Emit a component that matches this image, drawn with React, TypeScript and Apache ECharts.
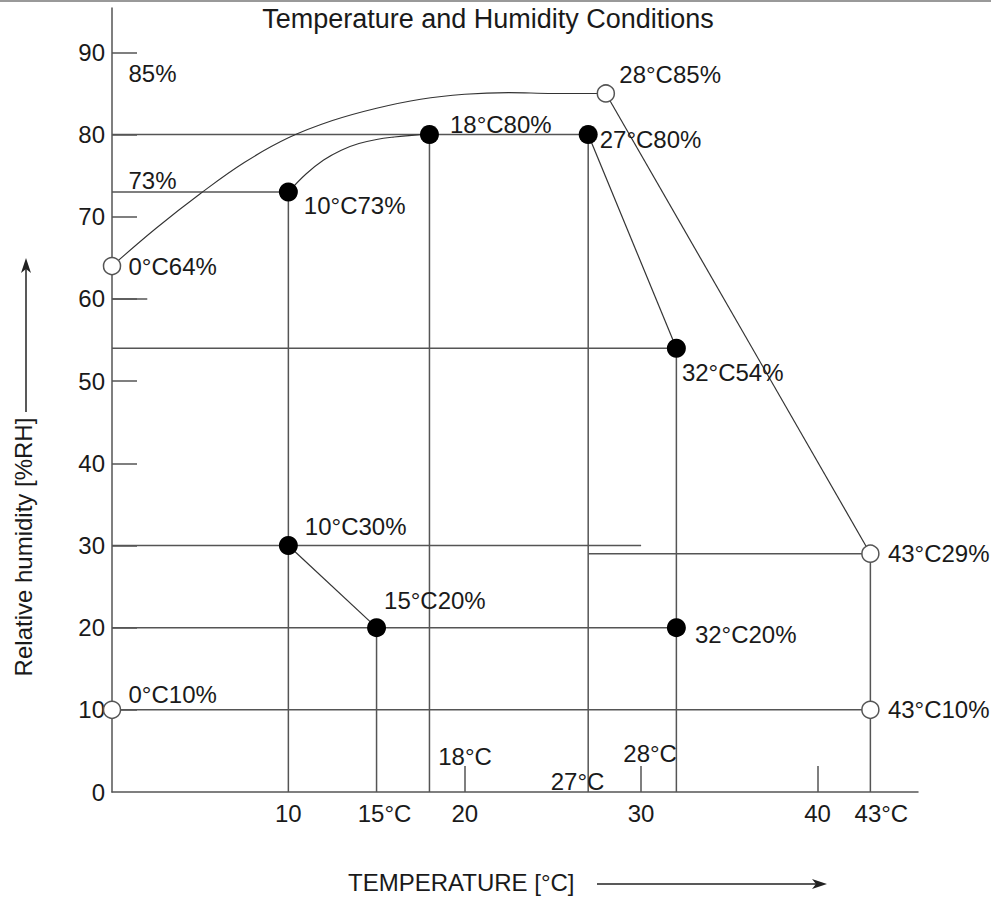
import { useEffect, useRef } from 'react';
import * as echarts from 'echarts';

// ---------- texts ----------
const TITLE = 'Temperature and Humidity Conditions';
const X_NAME = 'TEMPERATURE [°C]';
const Y_NAME = 'Relative humidity [%RH]';

// ---------- axes ----------
const X_MIN = 0;
const X_MAX = 45.7;
const Y_MIN = 0;
const Y_MAX = 95.4;
const xTickValues = [20, 30, 40];
const xLabelValues = [10, 15, 20, 30, 40, 43];
const yTickValues = [10, 20, 30, 40, 50, 60, 70, 80, 90];
const yLabelValues = [0, 10, 20, 30, 40, 50, 60, 70, 80, 90];

// ---------- condition points ----------
const filledPoints: [number, number][] = [
  [10, 73], [18, 80], [27, 80], [32, 54], [10, 30], [15, 20], [32, 20],
];
const filledNames = ['10°C73%', '18°C80%', '27°C80%', '32°C54%', '10°C30%', '15°C20%', '32°C20%'];

const openPoints: [number, number][] = [
  [0, 64], [28, 85], [43, 29], [43, 10], [0, 10],
];
const openNames = ['0°C64%', '28°C85%', '43°C29%', '43°C10%', '0°C10%'];

// extra annotation texts anchored at data values
const noteAnchors: [number, number][] = [[0, 85], [0, 73], [20, 0], [27, 0], [28, 0]];
const noteNames = ['85%', '73%', '18°C', '27°C', '28°C'];

// ---------- guide lines ----------
// horizontal: [xFrom, xTo, y]
const horizontalLines: [number, number, number][] = [
  [0, 27, 80], [0, 10, 73], [0, 32, 54], [0, 30, 30], [27, 43, 29], [0, 32, 20], [0, 43, 10], [0, 2, 60],
];
// vertical: [x, yFrom, yTo]
const verticalLines: [number, number, number][] = [
  [10, 0, 73], [15, 0, 20], [18, 0, 80], [27, 0, 80], [32, 0, 54], [43, 0, 29],
];
// diagonal segments
const diagonalLines: [[number, number], [number, number]][] = [
  [[10, 30], [15, 20]],
  [[27, 80], [32, 54]],
  [[28, 85], [43, 29]],
];
// curves
const outerCurve: [number, number][] = [
  [0, 64], [2.5, 68.6], [5, 72.8], [7.5, 76.6], [10, 79.6], [12.5, 81.7], [15, 83.2],
  [17.5, 84.3], [20, 84.9], [22.5, 85.1], [25, 85], [28, 85],
];
const innerCurve: [number, number][] = [
  [10, 73], [11, 75.2], [12, 76.9], [13, 78.1], [14, 78.9], [15, 79.4], [16, 79.7], [17, 79.9], [18, 80],
];

// ---------- label offsets (styling, px) ----------
const filledOffsets = [[15, 13], [20, -10], [11, 5], [5, 24], [16, -19], [7, -27], [18, 7]];
const openOffsets = [[16, 0], [13, -19], [17, 0], [17, 0], [16, -15]];
const noteOffsets = [[16, -20], [16, -12], [-27, -36], [-38, -11], [17, -39]];

const FONT = "'Liberation Sans', Arial, Helvetica, sans-serif";
const LINE = '#555';
const TEXT = '#1a1a1a';
const FS = 24;

function buildOption() {
  const seg = (data: number[][], width = 1.5, color = LINE) => ({
    type: 'line',
    data,
    symbol: 'none',
    silent: true,
    z: 1,
    lineStyle: { color, width },
  });

  const series: any[] = [];
  horizontalLines.forEach(([a, b, y]) => series.push(seg([[a, y], [b, y]])));
  verticalLines.forEach(([x, a, b]) => series.push(seg([[x, a], [x, b]])));
  diagonalLines.forEach(([p, q]) => series.push(seg([p, q], 1.2, '#333')));
  series.push({ ...seg(outerCurve, 1.1, '#333'), smooth: 0.4 });
  series.push({ ...seg(innerCurve, 1.1, '#333'), smooth: 0.4 });

  series.push({
    type: 'scatter',
    data: filledPoints,
    symbol: 'circle',
    symbolSize: 19,
    z: 5,
    silent: true,
    itemStyle: { color: '#000', opacity: 1 },
  });
  series.push({
    type: 'scatter',
    data: openPoints,
    symbol: 'circle',
    symbolSize: 17,
    z: 5,
    silent: true,
    itemStyle: { color: '#fff', borderColor: LINE, borderWidth: 1.5, opacity: 1 },
  });

  const annotations: any[] = [];
  filledPoints.forEach((p, i) => annotations.push({ name: filledNames[i], value: p, label: { offset: filledOffsets[i] } }));
  openPoints.forEach((p, i) => annotations.push({ name: openNames[i], value: p, label: { offset: openOffsets[i] } }));
  noteAnchors.forEach((p, i) => annotations.push({ name: noteNames[i], value: p, label: { offset: noteOffsets[i] } }));

  series.push({
    type: 'scatter',
    data: annotations,
    symbolSize: 1,
    z: 10,
    silent: true,
    itemStyle: { color: 'rgba(0,0,0,0)', opacity: 1 },
    label: {
      show: true,
      position: 'right',
      distance: 0,
      formatter: '{b}',
      color: TEXT,
      fontSize: FS,
      fontFamily: FONT,
    },
  });

  return {
    animation: false,
    backgroundColor: '#fff',
    title: {
      text: TITLE,
      left: 488,
      top: 5,
      padding: 0,
      textAlign: 'center',
      textStyle: { fontSize: 27, fontWeight: 'normal', color: TEXT, fontFamily: FONT },
    },
    grid: {
      left: 112,
      right: 73,
      top: 8,
      bottom: 108,
      containLabel: false,
      outerBoundsMode: 'none',
    },
    xAxis: {
      type: 'value',
      min: X_MIN,
      max: X_MAX,
      axisLine: { show: true, onZero: false, lineStyle: { color: LINE, width: 1.5 } },
      axisTick: {
        show: true,
        inside: true,
        length: 26,
        customValues: xTickValues,
        lineStyle: { color: LINE, width: 1.5 },
      },
      axisLabel: {
        customValues: xLabelValues,
        margin: 9,
        color: TEXT,
        fontSize: FS,
        fontFamily: FONT,
        formatter: (v: number) => (v === 15 ? '{a|15°C}' : v === 43 ? '{b|43°C}' : String(v)),
        rich: {
          a: { padding: [0, 0, 0, 16], fontSize: FS, fontFamily: FONT, color: TEXT },
          b: { padding: [0, 0, 0, 22], fontSize: FS, fontFamily: FONT, color: TEXT },
        },
      },
      splitLine: { show: false },
    },
    yAxis: {
      type: 'value',
      min: Y_MIN,
      max: Y_MAX,
      axisLine: { show: true, onZero: false, lineStyle: { color: LINE, width: 1.5 } },
      axisTick: {
        show: true,
        inside: true,
        length: 25,
        customValues: yTickValues,
        lineStyle: { color: LINE, width: 1.5 },
      },
      axisLabel: {
        customValues: yLabelValues,
        margin: 7,
        color: TEXT,
        fontSize: FS,
        fontFamily: FONT,
      },
      splitLine: { show: false },
    },
    graphic: [
      { type: 'rect', shape: { x: 0, y: 0, width: 991, height: 2 }, style: { fill: '#999' }, silent: true },
      {
        type: 'text',
        x: 23,
        y: 547,
        rotation: Math.PI / 2,
        style: { text: Y_NAME, fontSize: FS, fontFamily: FONT, fill: TEXT, align: 'center', verticalAlign: 'middle' },
      },
      { type: 'line', shape: { x1: 26, y1: 412, x2: 26, y2: 268 }, style: { stroke: '#222', lineWidth: 1.5 } },
      { type: 'polygon', shape: { points: [[26, 258], [21, 273], [26, 269], [31, 273]] }, style: { fill: '#222' } },
      {
        type: 'text',
        x: 348,
        y: 882,
        style: { text: X_NAME, fontSize: FS, fontFamily: FONT, fill: TEXT, align: 'left', verticalAlign: 'middle' },
      },
      { type: 'line', shape: { x1: 597, y1: 884, x2: 816, y2: 884 }, style: { stroke: '#222', lineWidth: 1.5 } },
      { type: 'polygon', shape: { points: [[827, 884], [812, 879], [816, 884], [812, 889]] }, style: { fill: '#222' } },
    ],
    series,
  };
}

export default function App() {
  const ref = useRef<HTMLDivElement>(null);
  useEffect(() => {
    if (!ref.current) return;
    const chart = echarts.init(ref.current, null, { renderer: 'svg' });
    chart.setOption(buildOption() as any);
    return () => chart.dispose();
  }, []);
  return (
    <div
      ref={ref}
      style={{ position: 'fixed', left: 0, top: 0, width: 991, height: 900, background: '#fff' }}
    />
  );
}
